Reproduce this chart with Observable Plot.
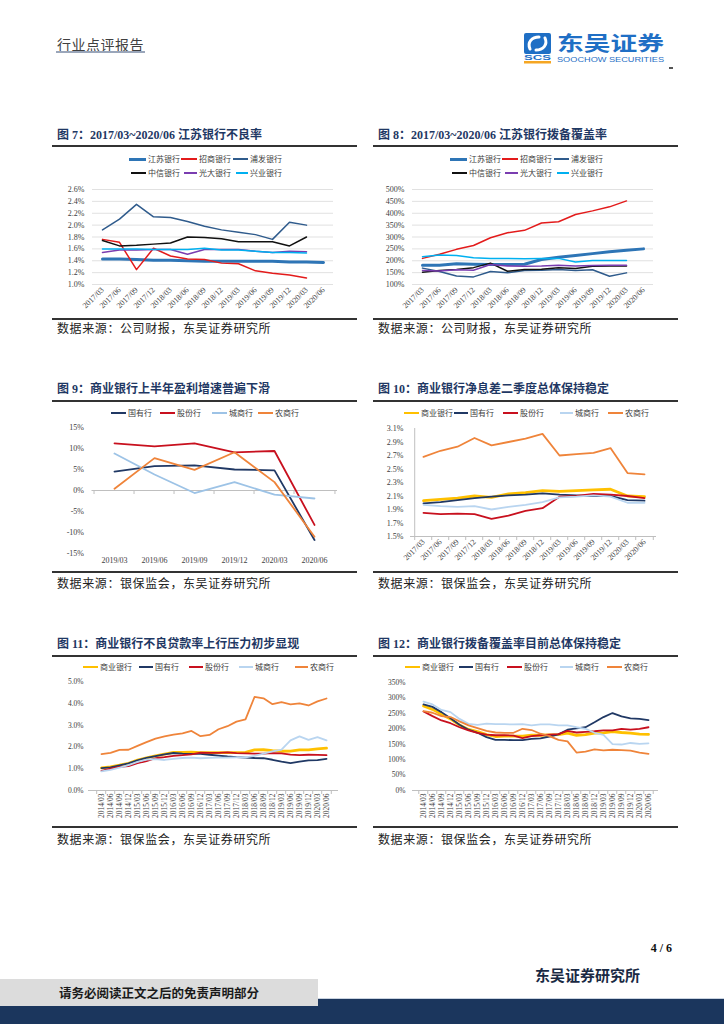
<!DOCTYPE html>
<html><head><meta charset="utf-8">
<script src="https://cdn.jsdelivr.net/npm/d3@7"></script>
<script src="https://cdn.jsdelivr.net/npm/@observablehq/plot@0.6"></script>
<style>
body{margin:0;background:#fff;}
#page{position:relative;width:724px;height:1024px;overflow:hidden;background:#fff;font-family:"Noto Sans CJK SC",sans-serif;}
.a{position:absolute;white-space:nowrap;}
.title{font-family:"Liberation Serif","Noto Sans CJK SC",serif;font-weight:bold;font-size:12px;line-height:16px;color:#1f3864;}
.rule{position:absolute;height:1.5px;background:#333;}
.src{font-size:12px;line-height:16px;color:#222;letter-spacing:0.6px;}
.lt{font-size:8px;line-height:12px;color:#404040;}
.chart svg{display:block;overflow:visible;}
</style>
</head><body>
<div id="page"></div>
<script>
// ---------------- DATA ----------------
const dates17 = ["2017/03","2017/06","2017/09","2017/12","2018/03","2018/06","2018/09","2018/12","2019/03","2019/06","2019/09","2019/12","2020/03","2020/06"];
const dates19 = ["2019/03","2019/06","2019/09","2019/12","2020/03","2020/06"];
const dates14 = ["2014/03","2014/06","2014/09","2014/12","2015/03","2015/06","2015/09","2015/12","2016/03","2016/06","2016/09","2016/12","2017/03","2017/06","2017/09","2017/12","2018/03","2018/06","2018/09","2018/12","2019/03","2019/06","2019/09","2019/12","2020/03","2020/06"];

// Fig 7: NPL ratio (%)
const nplJiangsu  = [1.43,1.43,1.42,1.41,1.41,1.40,1.39,1.39,1.39,1.39,1.39,1.38,1.38,1.37];
const nplZhaoshang= [1.76,1.71,1.25,1.61,1.48,1.43,1.42,1.36,1.35,1.23,1.19,1.16,1.11];
const nplPufa     = [1.92,2.10,2.35,2.14,2.13,2.06,1.98,1.92,1.88,1.84,1.76,2.05,2.00];
const nplZhongxin = [1.74,1.65,1.66,1.68,1.70,1.80,1.79,1.77,1.72,1.72,1.72,1.65,1.80];
const nplGuangda  = [1.54,1.58,1.58,1.59,1.59,1.51,1.59,1.59,1.59,1.56,1.54,1.56,1.55];
const nplXingye   = [1.60,1.60,1.60,1.59,1.59,1.59,1.61,1.58,1.58,1.56,1.54,1.54,1.53];

// Fig 8: provision coverage (%)
const covJiangsu  = [181,181,187,185,184,184,185,205,215,222,230,238,244,250];
const covZhaoshang= [210,227,248,264,297,318,328,359,364,395,410,427,452];
const covPufa     = [169,155,136,132,155,149,159,160,163,159,162,135,149];
const covZhongxin = [152,159,163,171,190,156,163,164,171,167,177,178,178];
const covGuangda  = [159,157,162,160,184,178,177,178,181,178,180,181,181];
const covXingye   = [217,224,222,213,209,210,208,209,210,195,201,201,201];

// Fig 9: profit growth (%)
const profitGuoyou     = [4.5,5.8,6.0,5.0,4.8,-11.8];
const profitGufen      = [11.2,10.5,11.2,9.1,9.4,-8.2];
const profitChengshang = [8.8,3.8,-0.6,2.0,-1.0,-1.9];
const profitNongshang  = [0.4,7.7,4.9,9.1,2.0,-11.0];

// Fig 10: NIM (%)
const nimAll        = [2.03,2.05,2.07,2.10,2.08,2.13,2.15,2.18,2.17,2.18,2.19,2.20,2.10,2.09];
const nimGuoyou     = [1.99,2.01,2.04,2.07,2.09,2.11,2.12,2.14,2.12,2.11,2.10,2.10,2.04,2.03];
const nimGufen      = [1.85,1.83,1.84,1.83,1.76,1.81,1.88,1.92,2.09,2.10,2.13,2.12,2.10,2.07];
const nimChengshang = [1.97,1.95,1.94,1.95,1.90,1.94,1.97,2.01,2.08,2.09,2.11,2.09,2.00,2.00];
const nimNongshang  = [2.68,2.77,2.83,2.96,2.85,2.90,2.95,3.02,2.70,2.72,2.74,2.81,2.44,2.42];

// Fig 11: NPL ratio by bank type (%)
const nplAll        = [1.04,1.08,1.16,1.25,1.39,1.50,1.59,1.67,1.75,1.75,1.76,1.74,1.74,1.74,1.74,1.74,1.75,1.86,1.87,1.83,1.80,1.81,1.86,1.86,1.91,1.94];
const nplGuoyou     = [1.03,1.06,1.15,1.24,1.38,1.50,1.58,1.66,1.72,1.69,1.68,1.68,1.64,1.60,1.56,1.53,1.51,1.49,1.48,1.41,1.32,1.26,1.32,1.38,1.39,1.45];
const nplGufen      = [0.90,1.00,1.08,1.12,1.25,1.35,1.48,1.53,1.59,1.62,1.66,1.74,1.73,1.73,1.75,1.71,1.70,1.69,1.69,1.71,1.70,1.65,1.62,1.64,1.63,1.62];
const nplChengshang = [0.88,0.95,1.05,1.16,1.31,1.42,1.44,1.40,1.45,1.49,1.51,1.48,1.50,1.51,1.51,1.52,1.52,1.59,1.69,1.79,1.88,2.30,2.48,2.32,2.45,2.30];
const nplNongshang  = [1.67,1.73,1.86,1.87,2.05,2.22,2.38,2.48,2.56,2.62,2.73,2.49,2.55,2.81,2.95,3.16,3.26,4.29,4.23,3.96,4.05,3.95,4.00,3.90,4.09,4.22];

// Fig 12: provision coverage by bank type (%)
const covAll        = [274,263,247,232,212,198,191,181,175,176,176,176,179,179,180,181,186,179,181,186,187,191,188,186,183,182];
const covGuoyou     = [279,271,254,234,213,197,187,173,164,164,163,163,167,169,175,182,197,201,205,221,238,251,240,234,232,228];
const covGufen      = [256,241,227,218,205,195,187,181,179,179,178,170,176,179,181,183,193,188,190,192,195,195,200,197,200,205];
const covChengshang = [288,279,261,254,232,216,213,217,215,215,214,215,211,214,214,211,211,205,200,187,180,150,149,154,151,153];
const covNongshang  = [257,252,241,238,224,211,202,193,188,187,187,200,196,184,176,164,159,123,126,133,130,132,131,129,123,119];

// tick labels
const ticks7  = [1.0,1.2,1.4,1.6,1.8,2.0,2.2,2.4,2.6];
const ticks8  = [100,150,200,250,300,350,400,450,500];
const ticks9  = [-15,-10,-5,0,5,10,15];
const ticks10 = [1.5,1.7,1.9,2.1,2.3,2.5,2.7,2.9,3.1];
const ticks11 = [0,1,2,3,4,5];
const ticks12 = [0,50,100,150,200,250,300,350];

// ---------------- LAYOUT ----------------
const page = document.getElementById("page");
function el(html, cls, left, top, style) {
  const d = document.createElement("div");
  d.className = "a " + (cls || "");
  d.style.left = left + "px"; d.style.top = top + "px";
  if (style) Object.assign(d.style, style);
  d.innerHTML = html;
  page.appendChild(d);
  return d;
}
function hr(left, top, width) {
  const d = document.createElement("div");
  d.className = "rule";
  d.style.left = left + "px"; d.style.top = top + "px"; d.style.width = width + "px";
  page.appendChild(d);
}

// header
el("行业点评报告", "", 57, 36, {fontSize: "14px", lineHeight: "16px", color: "#404040", letterSpacing: "0.5px"});
el("", "", 56, 51, {width: "89px", height: "2px", background: "#9aa6ba"});
el(`<svg width="150" height="52" xmlns="http://www.w3.org/2000/svg" style="overflow:visible">
  <rect x="4" y="13" width="27" height="21" rx="2" fill="#1f6fc5"/>
  <path d="M10,29 C7,22 12,17 19,17" stroke="#fff" stroke-width="3" fill="none" stroke-linecap="round"/>
  <path d="M25,18 C28,25 23,30 16,30" stroke="#fff" stroke-width="3" fill="none" stroke-linecap="round"/>
  <text x="4" y="40" font-family="Liberation Sans" font-weight="bold" font-size="6.5" fill="#1f6fc5" textLength="27" lengthAdjust="spacingAndGlyphs">SCS</text>
  <rect x="4" y="41" width="27" height="2.5" fill="#f5a623"/>
  <text x="37" y="31" font-family="Noto Sans CJK SC" font-weight="bold" font-size="20" fill="#1f6fc5" textLength="107" lengthAdjust="spacingAndGlyphs">东吴证券</text>
  <text x="37" y="42" font-family="Liberation Sans" font-size="8" fill="#1f6fc5" textLength="107" lengthAdjust="spacingAndGlyphs">SOOCHOW SECURITIES</text>
</svg>`, "", 520, 20);
el("", "", 669, 67, {width: "4px", height: "1.5px", background: "#555"});

// panels
function panel(x0, titleY, title, topRule, botRule, srcY, src) {
  el(title, "title", x0 + 5, titleY - 8);
  hr(x0, topRule, 305);
  hr(x0, botRule, 305);
  el(src, "src", x0 + 5, srcY - 8);
}
panel(52, 135, "图 7：2017/03~2020/06 江苏银行不良率", 145, 318, 328, "数据来源：公司财报，东吴证券研究所");
panel(373, 135, "图 8：2017/03~2020/06 江苏银行拨备覆盖率", 145, 318, 328, "数据来源：公司财报，东吴证券研究所");
panel(52, 389, "图 9：商业银行上半年盈利增速普遍下滑", 400, 571, 583, "数据来源：银保监会，东吴证券研究所");
panel(373, 389, "图 10：商业银行净息差二季度总体保持稳定", 400, 571, 583, "数据来源：银保监会，东吴证券研究所");
panel(52, 644, "图 11：商业银行不良贷款率上行压力初步显现", 655, 826, 839, "数据来源：银保监会，东吴证券研究所");
panel(373, 644, "图 12：商业银行拨备覆盖率目前总体保持稳定", 655, 826, 839, "数据来源：银保监会，东吴证券研究所");

function legend(items, y) {
  for (const it of items) {
    el("", "", it.tx - 2 - it.len, y - it.w / 2, {width: it.len + "px", height: it.w + "px", background: it.color});
    el(it.label, "lt", it.tx, y - 6);
  }
}

// colours
const C = {
  jiangsu: "#2e75b6", zhaoshang: "#e31b1b", pufa: "#2f5b8c", zhongxin: "#111111", guangda: "#7a3db0", xingye: "#00b0f0",
  all: "#ffc000", guoyou: "#203864", gufen: "#c8101e", cheng9: "#9dc3e6", cheng: "#b9d5f0", nong: "#ef843a"
};

function drawChart(c, left, top) {
  const iw = c.width - c.ml - c.mr, ih = c.height - c.mt - c.mb;
  const step = iw / c.dates.length;
  const perPx = (c.yDomain[1] - c.yDomain[0]) / ih;
  const marks = [];
  if (c.grid) marks.push(Plot.ruleY(c.yTicks, {stroke: "#d9d9d9", strokeWidth: 0.8}));
  if (c.leftLine) marks.push(Plot.ruleX(c.dates.slice(0, 1), {x: d => d, y1: c.yDomain[0], y2: c.yDomain[1], dx: -step / 2, stroke: "#bfbfbf"}));
  if (c.baseLine !== undefined) {
    const tl = 4 * perPx;
    marks.push(Plot.ruleY([c.baseLine], {stroke: "#bfbfbf"}));
    marks.push(Plot.ruleX(c.dates, {x: d => d, y1: c.baseLine, y2: c.baseLine - tl, dx: -step / 2, stroke: "#bfbfbf"}));
    marks.push(Plot.ruleX(c.dates.slice(-1), {x: d => d, y1: c.baseLine, y2: c.baseLine - tl, dx: step / 2, stroke: "#bfbfbf"}));
  }
  for (const s of c.series) {
    const data = s.values.map((v, i) => ({date: c.dates[i], value: v}));
    marks.push(Plot.line(data, {x: "date", y: "value", stroke: s.color, strokeWidth: s.w}));
  }
  const svg = Plot.plot({
    width: c.width, height: c.height,
    marginLeft: c.ml, marginRight: c.mr, marginTop: c.mt, marginBottom: c.mb,
    style: {fontFamily: "'Liberation Serif', serif", fontSize: c.fs || "8px", color: "#404040", background: "none"},
    x: {type: "point", domain: c.dates, padding: 0.5, label: null, tickSize: 0, tickPadding: c.xPad, tickRotate: c.rotate || 0},
    y: {domain: c.yDomain, ticks: c.yTicks, tickFormat: c.yFormat, tickSize: 0, tickPadding: c.yPad, label: null},
    marks
  });
  const holder = el("", "chart", left, top);
  holder.appendChild(svg);
}

const pct1 = d => d.toFixed(1) + "%";
const pct0 = d => d + "%";

// Fig 7
legend([
  {label: "江苏银行", color: C.jiangsu, w: 3, tx: 148, len: 17},
  {label: "招商银行", color: C.zhaoshang, w: 1.5, tx: 199, len: 16},
  {label: "浦发银行", color: C.pufa, w: 1.5, tx: 250, len: 15}
], 159);
legend([
  {label: "中信银行", color: C.zhongxin, w: 1.5, tx: 148, len: 15},
  {label: "光大银行", color: C.guangda, w: 1.5, tx: 199, len: 13},
  {label: "兴业银行", color: C.xingye, w: 1.5, tx: 250, len: 12}
], 173);
drawChart({
  dates: dates17, width: 305, height: 135, ml: 40, mr: 24, mt: 9, mb: 31,
  yDomain: [1.0, 2.6], yTicks: ticks7, yFormat: pct1, yPad: 8, xPad: 4, rotate: -45, grid: true,
  series: [
    {values: nplJiangsu, color: C.jiangsu, w: 3},
    {values: nplZhaoshang, color: C.zhaoshang, w: 1.5},
    {values: nplPufa, color: C.pufa, w: 1.5},
    {values: nplZhongxin, color: C.zhongxin, w: 1.5},
    {values: nplGuangda, color: C.guangda, w: 1.5},
    {values: nplXingye, color: C.xingye, w: 1.5}
  ]
}, 52, 180);

// Fig 8
legend([
  {label: "江苏银行", color: C.jiangsu, w: 3, tx: 469, len: 17},
  {label: "招商银行", color: C.zhaoshang, w: 1.5, tx: 520, len: 16},
  {label: "浦发银行", color: C.pufa, w: 1.5, tx: 571, len: 15}
], 159);
legend([
  {label: "中信银行", color: C.zhongxin, w: 1.5, tx: 469, len: 15},
  {label: "光大银行", color: C.guangda, w: 1.5, tx: 520, len: 13},
  {label: "兴业银行", color: C.xingye, w: 1.5, tx: 571, len: 12}
], 173);
drawChart({
  dates: dates17, width: 305, height: 135, ml: 39, mr: 25, mt: 9, mb: 31,
  yDomain: [100, 500], yTicks: ticks8, yFormat: pct0, yPad: 8, xPad: 4, rotate: -45, grid: true,
  series: [
    {values: covJiangsu, color: C.jiangsu, w: 3},
    {values: covZhaoshang, color: C.zhaoshang, w: 1.5},
    {values: covPufa, color: C.pufa, w: 1.5},
    {values: covZhongxin, color: C.zhongxin, w: 1.5},
    {values: covGuangda, color: C.guangda, w: 1.5},
    {values: covXingye, color: C.xingye, w: 1.5}
  ]
}, 373, 180);

// Fig 9
legend([
  {label: "国有行", color: C.guoyou, w: 1.8, tx: 128, len: 15},
  {label: "股份行", color: C.gufen, w: 1.8, tx: 177, len: 15},
  {label: "城商行", color: C.cheng9, w: 1.8, tx: 229, len: 15},
  {label: "农商行", color: C.nong, w: 1.8, tx: 275, len: 15}
], 413);
drawChart({
  dates: dates19, width: 305, height: 150, ml: 39.5, mr: 20, mt: 7, mb: 17,
  yDomain: [-15, 15], yTicks: ticks9, yFormat: pct0, yPad: 8, xPad: 4, baseLine: 0,
  series: [
    {values: profitGuoyou, color: C.guoyou, w: 1.8},
    {values: profitGufen, color: C.gufen, w: 1.8},
    {values: profitChengshang, color: C.cheng9, w: 1.8},
    {values: profitNongshang, color: C.nong, w: 1.8}
  ]
}, 52, 420);

// Fig 10
legend([
  {label: "商业银行", color: C.all, w: 2.8, tx: 421, len: 15},
  {label: "国有行", color: C.guoyou, w: 1.8, tx: 470, len: 14},
  {label: "股份行", color: C.gufen, w: 1.8, tx: 520, len: 15},
  {label: "城商行", color: C.cheng, w: 1.8, tx: 575, len: 13},
  {label: "农商行", color: C.nong, w: 1.8, tx: 625, len: 15}
], 413);
drawChart({
  dates: dates17, width: 305, height: 150, ml: 37, mr: 22, mt: 8, mb: 34,
  yDomain: [1.5, 3.1], yTicks: ticks10, yFormat: pct1, yPad: 7, xPad: 4, rotate: -45, baseLine: 1.5, leftLine: true,
  series: [
    {values: nimAll, color: C.all, w: 2.8},
    {values: nimGuoyou, color: C.guoyou, w: 1.8},
    {values: nimGufen, color: C.gufen, w: 1.8},
    {values: nimChengshang, color: C.cheng, w: 1.8},
    {values: nimNongshang, color: C.nong, w: 1.8}
  ]
}, 373, 420);

// Fig 11
legend([
  {label: "商业银行", color: C.all, w: 2.8, tx: 100, len: 15},
  {label: "国有行", color: C.guoyou, w: 1.8, tx: 155, len: 14},
  {label: "股份行", color: C.gufen, w: 1.8, tx: 205, len: 14},
  {label: "城商行", color: C.cheng, w: 1.8, tx: 255, len: 14},
  {label: "农商行", color: C.nong, w: 1.8, tx: 310, len: 13}
], 667);
drawChart({
  dates: dates14, width: 305, height: 152, ml: 36, mr: 19, mt: 9, mb: 34, fs: "7.5px",
  yDomain: [0, 5], yTicks: ticks11, yFormat: pct1, yPad: 5, xPad: 3, rotate: -90, baseLine: 0,
  series: [
    {values: nplAll, color: C.all, w: 2.8},
    {values: nplGuoyou, color: C.guoyou, w: 1.8},
    {values: nplGufen, color: C.gufen, w: 1.8},
    {values: nplChengshang, color: C.cheng, w: 1.8},
    {values: nplNongshang, color: C.nong, w: 1.8}
  ]
}, 52, 672);

// Fig 12
legend([
  {label: "商业银行", color: C.all, w: 2.8, tx: 422, len: 15},
  {label: "国有行", color: C.guoyou, w: 1.8, tx: 475, len: 14},
  {label: "股份行", color: C.gufen, w: 1.8, tx: 524, len: 15},
  {label: "城商行", color: C.cheng, w: 1.8, tx: 575, len: 13},
  {label: "农商行", color: C.nong, w: 1.8, tx: 624, len: 15}
], 667);
drawChart({
  dates: dates14, width: 305, height: 152, ml: 39, mr: 20, mt: 10, mb: 34, fs: "7.5px",
  yDomain: [0, 350], yTicks: ticks12, yFormat: pct0, yPad: 7, xPad: 3, rotate: -90, baseLine: 0,
  series: [
    {values: covAll, color: C.all, w: 2.8},
    {values: covGuoyou, color: C.guoyou, w: 1.8},
    {values: covGufen, color: C.gufen, w: 1.8},
    {values: covChengshang, color: C.cheng, w: 1.8},
    {values: covNongshang, color: C.nong, w: 1.8}
  ]
}, 373, 672);

// footer
el("4 / 6", "", 640, 941, {width: "32px", textAlign: "right", fontFamily: "'Liberation Serif', serif", fontWeight: "bold", fontSize: "12px", lineHeight: "14px", color: "#111"});
el("东吴证券研究所", "", 535, 966, {fontSize: "15px", lineHeight: "18px", fontWeight: "bold", color: "#1a2a44"});
el("", "", 318, 998, {width: "406px", height: "1px", background: "#c9d3e0"});
el("", "", 318, 999, {width: "406px", height: "25px", background: "#1b365d"});
el("", "", 0, 1006, {width: "318px", height: "18px", background: "#1b365d"});
el("请务必阅读正文之后的免责声明部分", "", 0, 979, {width: "318px", height: "27px", background: "#dcdcdc", textAlign: "center", fontSize: "12.5px", lineHeight: "27px", fontWeight: "bold", color: "#1a1a1a"});
</script>
</body></html>
